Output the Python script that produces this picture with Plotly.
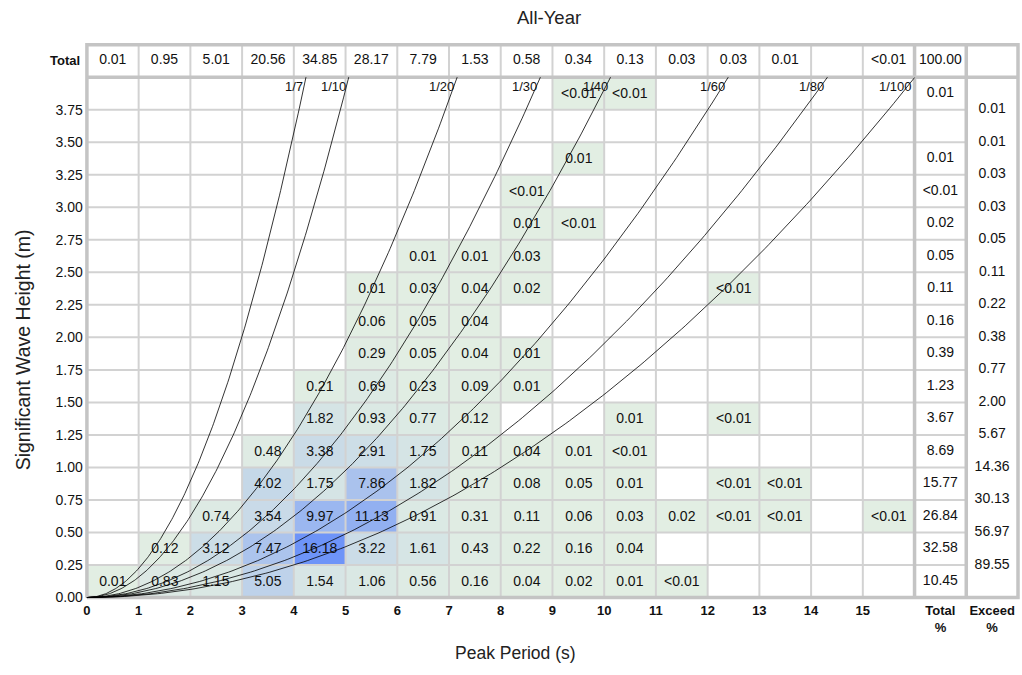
import plotly.graph_objects as go
import numpy as np

# ---------------- data ----------------
TITLE = "All-Year"
X_TITLE = "Peak Period (s)"
Y_TITLE = "Significant Wave Height (m)"

tp_bins = list(range(16))                      # Tp bin starts 0..15 (s), width 1
hs_bins = [0.25 * i for i in range(16)]        # Hs bin starts 0..3.75 (m), width 0.25
x_tick_labels = [str(i) for i in range(16)]
y_tick_labels = ["0.00", "0.25", "0.50", "0.75", "1.00", "1.25", "1.50", "1.75",
                 "2.00", "2.25", "2.50", "2.75", "3.00", "3.25", "3.50", "3.75"]

# occurrence (%) rows from Hs 0-0.25 (bottom) upward, columns Tp 0-1 ... 15-16
row_00 = ["0.01", "0.83", "1.15", "5.05", "1.54", "1.06", "0.56", "0.16", "0.04", "0.02", "0.01", "<0.01", "", "", "", ""]
row_01 = ["", "0.12", "3.12", "7.47", "16.18", "3.22", "1.61", "0.43", "0.22", "0.16", "0.04", "", "", "", "", ""]
row_02 = ["", "", "0.74", "3.54", "9.97", "11.13", "0.91", "0.31", "0.11", "0.06", "0.03", "0.02", "<0.01", "<0.01", "", "<0.01"]
row_03 = ["", "", "", "4.02", "1.75", "7.86", "1.82", "0.17", "0.08", "0.05", "0.01", "", "<0.01", "<0.01", "", ""]
row_04 = ["", "", "", "0.48", "3.38", "2.91", "1.75", "0.11", "0.04", "0.01", "<0.01", "", "", "", "", ""]
row_05 = ["", "", "", "", "1.82", "0.93", "0.77", "0.12", "", "", "0.01", "", "<0.01", "", "", ""]
row_06 = ["", "", "", "", "0.21", "0.69", "0.23", "0.09", "0.01", "", "", "", "", "", "", ""]
row_07 = ["", "", "", "", "", "0.29", "0.05", "0.04", "0.01", "", "", "", "", "", "", ""]
row_08 = ["", "", "", "", "", "0.06", "0.05", "0.04", "", "", "", "", "", "", "", ""]
row_09 = ["", "", "", "", "", "0.01", "0.03", "0.04", "0.02", "", "", "", "<0.01", "", "", ""]
row_10 = ["", "", "", "", "", "", "0.01", "0.01", "0.03", "", "", "", "", "", "", ""]
row_11 = ["", "", "", "", "", "", "", "", "0.01", "<0.01", "", "", "", "", "", ""]
row_12 = ["", "", "", "", "", "", "", "", "<0.01", "", "", "", "", "", "", ""]
row_13 = ["", "", "", "", "", "", "", "", "", "0.01", "", "", "", "", "", ""]
row_14 = ["", "", "", "", "", "", "", "", "", "", "", "", "", "", "", ""]
row_15 = ["", "", "", "", "", "", "", "", "", "<0.01", "<0.01", "", "", "", "", ""]

row_totals = ["10.45", "32.58", "26.84", "15.77", "8.69", "3.67", "1.23", "0.39",
              "0.16", "0.11", "0.05", "0.02", "<0.01", "0.01", "", "0.01"]
col_totals = ["0.01", "0.95", "5.01", "20.56", "34.85", "28.17", "7.79", "1.53",
              "0.58", "0.34", "0.13", "0.03", "0.03", "0.01", "", "<0.01"]
grand_total = "100.00"
# exceedance (%) at Hs = 0.25, 0.50, ... 3.75
exceed_levels = [0.25 * i for i in range(1, 16)]
exceed_values = ["89.55", "56.97", "30.13", "14.36", "5.67", "2.00", "0.77", "0.38",
                 "0.22", "0.11", "0.05", "0.03", "0.03", "0.01", "0.01"]

steepness_labels = ["1/7", "1/10", "1/20", "1/30", "1/40", "1/60", "1/80", "1/100"]
steepness_denoms = [7, 10, 20, 30, 40, 60, 80, 100]

# ---------------- build ----------------
cells = [row_00, row_01, row_02, row_03, row_04, row_05, row_06, row_07,
         row_08, row_09, row_10, row_11, row_12, row_13, row_14, row_15]


def to_num(s):
    if s == "":
        return None
    if s.startswith("<"):
        return 0.005
    return float(s)


z = [[to_num(s) for s in r] for r in cells]
zmax = max(v for r in z for v in r if v is not None)

FONT = "Liberation Sans, Arial, sans-serif"
W, H = 1022, 675
# pixel geometry
X0_PX, X18_PX = 86, 1018
Y0_PX, YTOP_PX = 602, 45
NCOL = 18           # 16 Tp bins + Total + Exceed
YTOP = 4.25         # 16 Hs bins + Total row
kx = (X18_PX - X0_PX) / NCOL
ky = (Y0_PX - YTOP_PX) / YTOP
padx, pady = 0.06, 0.025
xr = [-padx, NCOL + padx]
yr = [-pady, YTOP + pady]
xdom = [(X0_PX - padx * kx) / W, (X18_PX + padx * kx) / W]
ydom = [1 - (Y0_PX + pady * ky) / H, 1 - (YTOP_PX - pady * ky) / H]

fig = go.Figure()

xc = [t + 0.5 for t in tp_bins]
yc = [h + 0.125 for h in hs_bins]

CELL_FS = 14
fig.add_trace(go.Heatmap(
    x=xc, y=yc, z=z, text=cells, texttemplate="%{text}",
    textfont=dict(family=FONT, size=CELL_FS, color="#111111"),
    colorscale=[[0, "rgb(226,238,227)"], [1, "rgb(110,148,248)"]],
    zmin=0, zmax=zmax, showscale=False, hoverinfo="skip",
))

# thin grid lines
gx, gy = [], []
for t in tp_bins[1:]:
    gx += [t, t, None]
    gy += [0, YTOP, None]
for h in hs_bins[1:]:
    gx += [0, 17, None]
    gy += [h, h, None]
fig.add_trace(go.Scatter(x=gx, y=gy, mode="lines",
                         line=dict(color="#d2d2d2", width=2),
                         hoverinfo="skip", showlegend=False))

# thick borders
bx = [0, NCOL, NCOL, 0, 0, None, 0, NCOL, None, 16, 16, None, 17, 17, None]
by = [0, 0, YTOP, YTOP, 0, None, 4, 4, None, 0, YTOP, None, 0, YTOP, None]
fig.add_trace(go.Scatter(x=bx, y=by, mode="lines",
                         line=dict(color="#c4c4c4", width=3.5),
                         hoverinfo="skip", showlegend=False))

# steepness curves H = s * g T^2 / (2 pi)
g = 9.81
annotations = []
for lab, d in zip(steepness_labels, steepness_denoms):
    c = g / (2 * np.pi) / d
    t_end = min(np.sqrt(4.0 / c), 16.0)
    T = np.linspace(0, t_end, 200)
    fig.add_trace(go.Scatter(x=T, y=c * T ** 2, mode="lines",
                             line=dict(color="black", width=0.8),
                             hoverinfo="skip", showlegend=False))
    annotations.append(dict(x=t_end, y=3.93, text=lab, showarrow=False,
                            xanchor="right", yanchor="middle", xshift=-1,
                            font=dict(family=FONT, size=13, color="#111111")))

# Total column, Total row, Exceed column
txtfont = dict(family=FONT, size=CELL_FS, color="#111111")
fig.add_trace(go.Scatter(x=[16.5] * len(row_totals), y=yc, text=row_totals,
                         mode="text", textfont=txtfont, hoverinfo="skip",
                         showlegend=False, cliponaxis=False))
fig.add_trace(go.Scatter(x=xc + [16.5], y=[4.125] * 17, text=col_totals + [grand_total],
                         mode="text", textfont=txtfont, hoverinfo="skip",
                         showlegend=False, cliponaxis=False))
fig.add_trace(go.Scatter(x=[17.5] * len(exceed_values), y=exceed_levels, text=exceed_values,
                         mode="text", textfont=txtfont, hoverinfo="skip",
                         showlegend=False, cliponaxis=False))

annotations.append(dict(x=0, y=4.125, text="<b>Total</b>", showarrow=False,
                        xanchor="right", yanchor="middle", xshift=-5,
                        font=dict(family=FONT, size=13, color="#111111")))
annotations.append(dict(x=549 / W, y=1 - 18 / H, xref="paper", yref="paper",
                        text=TITLE, showarrow=False, xanchor="center", yanchor="middle",
                        font=dict(family=FONT, size=18.5, color="#222222")))
annotations.append(dict(x=515 / W, y=1 - 658 / H, xref="paper", yref="paper",
                        text=X_TITLE, showarrow=False, xanchor="center", yanchor="middle",
                        font=dict(family=FONT, size=17.5, color="#222222")))
annotations.append(dict(x=22 / W, y=1 - 352 / H, xref="paper", yref="paper",
                        text=Y_TITLE, showarrow=False, xanchor="center", yanchor="middle",
                        textangle=-90,
                        font=dict(family=FONT, size=19.5, color="#222222")))

fig.update_layout(
    width=W, height=H, margin=dict(l=0, r=0, t=0, b=0),
    paper_bgcolor="white", plot_bgcolor="white", showlegend=False,
    annotations=annotations,
    xaxis=dict(range=xr, domain=xdom, showgrid=False, zeroline=False, showline=False,
               tickmode="array", tickvals=tp_bins + [16.5, 17.5],
               ticktext=[f"<b>{s}</b>" for s in x_tick_labels] + ["<b>Total</b><br><b>%</b>", "<b>Exceed</b><br><b>%</b>"],
               ticks="", tickfont=dict(family=FONT, size=13, color="#111111")),
    yaxis=dict(range=yr, domain=ydom, showgrid=False, zeroline=False, showline=False,
               tickmode="array", tickvals=hs_bins, ticktext=y_tick_labels,
               ticks="", tickfont=dict(family=FONT, size=14, color="#111111")),
)

fig.write_html("out.html")
